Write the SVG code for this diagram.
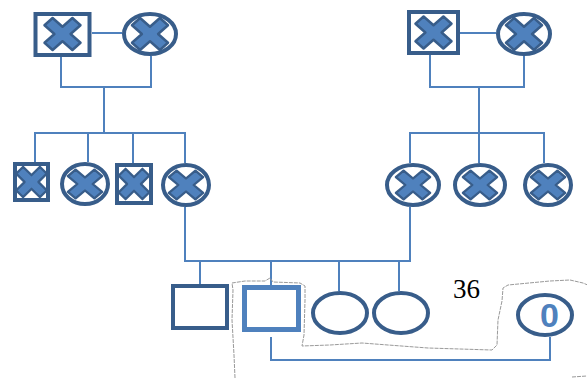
<svg xmlns="http://www.w3.org/2000/svg" width="587" height="378" viewBox="0 0 587 378">
  <style>
    .male { fill: #ffffff; stroke: #385d8a; stroke-width: 4; }
    .female { fill: #ffffff; stroke: #385d8a; stroke-width: 4; }
    .proband { fill: #ffffff; stroke: #4f81bd; stroke-width: 5; }
    .link { fill: none; stroke: #4f81bd; stroke-width: 2; }
    .cross { fill: #4f81bd; stroke: #385d8a; stroke-width: 2.5; stroke-linejoin: round; }
    .outline { fill: none; stroke: #9a9a9a; stroke-width: 1; stroke-dasharray: 4 1; stroke-linejoin: round; }
    .num { font-family: "Liberation Serif", "Times New Roman", serif; font-size: 27px; fill: #000000; }
    .count { font-family: "Liberation Sans", Arial, sans-serif; font-weight: bold; font-size: 34px; fill: #4f81bd; }
  </style>
  <defs>
    <!-- "deceased / affected" cross mark, centred on 0,0 -->
    <path id="xmark" class="cross" d="M-18,-8.8 L-9.9,-16 L0,-7.2 L9.9,-16 L18,-8.8 L8.1,0 L18,8.8 L9.9,16 L0,7.2 L-9.9,16 L-18,8.8 L-8.1,0 Z"/>
  </defs>

  <!-- connectors -->
  <g id="connectors">
    <!-- grandparents (left) -->
    <path class="link" d="M92,33 H122"/>
    <path class="link" d="M61,57 V87 H151 V56"/>
    <path class="link" d="M104,87 V133"/>
    <!-- siblings (left) -->
    <path class="link" d="M35,162 V133 H185 V163"/>
    <path class="link" d="M88,133 V162"/>
    <path class="link" d="M133,133 V163"/>
    <!-- grandparents (right) -->
    <path class="link" d="M460,33 H496"/>
    <path class="link" d="M430,55 V87 H524 V56"/>
    <path class="link" d="M479,87 V133"/>
    <!-- siblings (right) -->
    <path class="link" d="M410,163 V133 H544 V163"/>
    <path class="link" d="M479,133 V163"/>
    <!-- parents to children -->
    <path class="link" d="M185,207 V261 H410 V207"/>
    <path class="link" d="M200,261 V284"/>
    <path class="link" d="M271,261 V285"/>
    <path class="link" d="M339,261 V291"/>
    <path class="link" d="M399,261 V291"/>
    <!-- proband to partner -->
    <path class="link" d="M271,337 V360 H550 V337"/>
  </g>

  <!-- generation I, left -->
  <g id="gp-left-m">
    <rect class="male" x="35.5" y="14" width="54" height="41" stroke-width="4.5"/>
    <use href="#xmark" transform="translate(62.5,34)"/>
  </g>
  <g id="gp-left-f">
    <ellipse class="female" cx="150" cy="34" rx="26" ry="20"/>
    <use href="#xmark" transform="translate(150,34)"/>
  </g>

  <!-- generation I, right -->
  <g id="gp-right-m">
    <rect class="male" x="409" y="12" width="49" height="41" stroke-width="4.5"/>
    <use href="#xmark" transform="translate(433.5,32.5)"/>
  </g>
  <g id="gp-right-f">
    <ellipse class="female" cx="524" cy="34" rx="26" ry="20"/>
    <use href="#xmark" transform="translate(524,34)"/>
  </g>

  <!-- generation II, left -->
  <g id="p-left-1">
    <rect class="male" x="15" y="164" width="33" height="36"/>
    <use href="#xmark" transform="translate(31.5,182) scale(0.85,0.95)"/>
  </g>
  <g id="p-left-2">
    <ellipse class="female" cx="85" cy="184" rx="23" ry="20"/>
    <use href="#xmark" transform="translate(85,184) scale(0.95,0.9)"/>
  </g>
  <g id="p-left-3">
    <rect class="male" x="117" y="165" width="34" height="38"/>
    <use href="#xmark" transform="translate(134,184) scale(0.85,0.95)"/>
  </g>
  <g id="p-left-4">
    <ellipse class="female" cx="186" cy="185" rx="23" ry="20"/>
    <use href="#xmark" transform="translate(186,185) scale(0.95,0.9)"/>
  </g>

  <!-- generation II, right -->
  <g id="p-right-1">
    <ellipse class="female" cx="413" cy="185" rx="26" ry="20"/>
    <use href="#xmark" transform="translate(413,185) scale(0.95,0.9)"/>
  </g>
  <g id="p-right-2">
    <ellipse class="female" cx="480" cy="185" rx="25" ry="20"/>
    <use href="#xmark" transform="translate(480,185) scale(0.95,0.9)"/>
  </g>
  <g id="p-right-3">
    <ellipse class="female" cx="548" cy="185" rx="23" ry="20"/>
    <use href="#xmark" transform="translate(548,185) scale(0.95,0.9)"/>
  </g>

  <!-- generation III -->
  <g id="c-1">
    <rect class="male" x="173" y="286" width="54" height="42"/>
  </g>
  <g id="c-2">
    <rect class="proband" x="244.5" y="287.5" width="54" height="42"/>
  </g>
  <g id="c-3">
    <ellipse class="female" cx="340" cy="313" rx="27" ry="20"/>
  </g>
  <g id="c-4">
    <ellipse class="female" cx="401" cy="313" rx="27" ry="20"/>
  </g>

  <!-- partner -->
  <g id="partner">
    <ellipse class="female" cx="545" cy="315" rx="27" ry="20"/>
    <text class="count" x="549.5" y="327" text-anchor="middle">0</text>
  </g>

  <!-- age label -->
  <g id="age">
    <text class="num" x="453" y="298">36</text>
  </g>

  <!-- hand-drawn household outline -->
  <g id="household">
    <path class="outline" d="M235,378 L234,355 L232,320 L233,290 L232,283 L245,281 L265,281 L270,278 L273,282 L300,283 L305,286 L305,300 L304,335 L302,346 L330,345 L362,343 L388,345 L428,348 L492,350 L497,345 L498,320 L502,301 L503,288 L508,285 L550,281 L570,280 L583,283 L590,286"/>
    <path class="outline" d="M572,377 L587,376"/>
  </g>
</svg>
